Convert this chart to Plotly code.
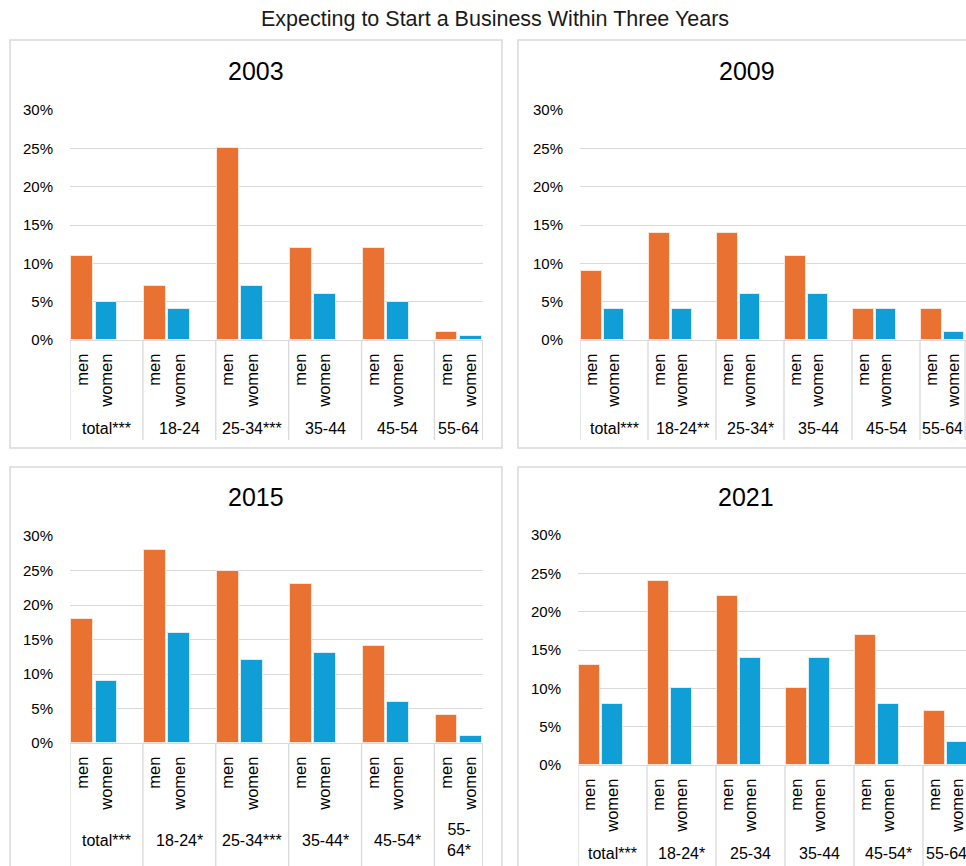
import plotly.graph_objects as go

W, H = 966, 866

title_text = "Expecting to Start a Business Within Three Years"
years = ["2003", "2009", "2015", "2021"]
sexes = ["men", "women"]

groups_2003 = ["total***", "18-24", "25-34***", "35-44", "45-54", "55-64"]
groups_2009 = ["total***", "18-24**", "25-34*", "35-44", "45-54", "55-64"]
groups_2015 = ["total***", "18-24*", "25-34***", "35-44*", "45-54*", "55-<br>64*"]
groups_2021 = ["total***", "18-24*", "25-34", "35-44", "45-54*", "55-64"]

men_2003 = [11, 7, 25, 12, 12, 1.1]
women_2003 = [5, 4, 7, 6, 5, 0.5]
men_2009 = [9, 14, 14, 11, 4, 4]
women_2009 = [4, 4, 6, 6, 4, 1]
men_2015 = [18, 28, 25, 23, 14, 4]
women_2015 = [9, 16, 12, 13, 6, 1]
men_2021 = [13, 24, 22, 10, 17, 7]
women_2021 = [8, 10, 14, 14, 8, 3]

y_ticks = [0, 5, 10, 15, 20, 25, 30]

ORANGE = "#E97132"
BLUE = "#0F9ED5"
GRID = "#d9d9d9"
FONT = "Liberation Sans"


def py(v):
    return 1 - v / H


def px(v):
    return v / W


# panel geometry (screen pixels)
panels = [
    dict(year="2003", groups=groups_2003, men=men_2003, women=women_2003,
         x0=70, x1=483, xmax=17 / 3, ybase=340, ytop=110, glab=428,
         box=(10, 40, 502, 448), tx=256, ty=71, divbottom=440),
    dict(year="2009", groups=groups_2009, men=men_2009, women=women_2009,
         x0=580, x1=966, xmax=(966 - 580) / 68, ybase=340, ytop=110, glab=428,
         box=(518, 40, 980, 448), tx=747, ty=71, divbottom=440),
    dict(year="2015", groups=groups_2015, men=men_2015, women=women_2015,
         x0=70, x1=483, xmax=17 / 3, ybase=743, ytop=536, glab=840,
         box=(10, 467, 502, 880), tx=256, ty=497, divbottom=870),
    dict(year="2021", groups=groups_2021, men=men_2021, women=women_2021,
         x0=578, x1=966, xmax=(966 - 578) / 69, ybase=765, ytop=535, glab=853,
         box=(518, 467, 980, 880), tx=746, ty=497, divbottom=870),
]

fig = go.Figure()
shapes = []
annotations = []

for k, p in enumerate(panels):
    n = len(p["groups"])
    idx = "" if k == 0 else str(k + 1)
    xa, ya = "x" + idx, "y" + idx
    men_x = [i + 1 / 6 for i in range(n)]
    women_x = [i + 0.5 for i in range(n)]
    fig.add_trace(go.Bar(x=men_x, y=p["men"], width=0.3, name="men",
                         marker=dict(color=ORANGE, line=dict(color="#fbe3d6", width=1)),
                         xaxis=xa, yaxis=ya, showlegend=False))
    fig.add_trace(go.Bar(x=women_x, y=p["women"], width=0.3, name="women",
                         marker=dict(color=BLUE, line=dict(color="#d6eef8", width=1)),
                         xaxis=xa, yaxis=ya, showlegend=False))

    tickvals = []
    ticktext = []
    for i in range(n):
        tickvals += [men_x[i], women_x[i]]
        ticktext += sexes

    xdom = [px(p["x0"]), min(1.0, px(p["x1"]))]
    ydom = [py(p["ybase"]), py(p["ytop"])]
    xkey = "xaxis" + idx
    ykey = "yaxis" + idx
    fig.update_layout(**{
        xkey: dict(domain=xdom, range=[0, p["xmax"]], anchor=ya,
                   tickmode="array", tickvals=tickvals, ticktext=ticktext,
                   tickangle=-90, showgrid=False, zeroline=False,
                   showline=True, linecolor=GRID, linewidth=1,
                   ticks="", ticklabelstandoff=6, automargin=False,
                   tickfont=dict(family=FONT, size=16.5, color="#000000"),
                   fixedrange=True),
        ykey: dict(domain=ydom, range=[0, 30], anchor=xa,
                   tickmode="array", tickvals=y_ticks,
                   ticktext=[f"{t}%" for t in y_ticks],
                   showgrid=True, gridcolor=GRID, gridwidth=1,
                   zeroline=False, showline=False, ticks="",
                   ticklabelstandoff=16, automargin=False,
                   tickfont=dict(family=FONT, size=15, color="#000000"),
                   fixedrange=True),
    })

    # category dividers below the axis
    divs = list(range(n))
    if p["xmax"] >= 17 / 3 - 1e-9:
        divs.append(17 / 3 - 0.004)
    for d in divs:
        shapes.append(dict(type="line", xref=xa, yref="paper",
                           x0=d, x1=d, y0=py(p["ybase"]), y1=py(p["divbottom"]),
                           line=dict(color=GRID, width=1.3)))

    # group labels
    for i, g in enumerate(p["groups"]):
        right = min(i + 1, 17 / 3)
        cx = (i + right) / 2
        annotations.append(dict(text=g, xref=xa, yref="paper", x=cx, y=py(p["glab"]),
                                showarrow=False, xanchor="center", yanchor="middle",
                                font=dict(family=FONT, size=16, color="#000000")))

    # panel border
    bx0, by0, bx1, by1 = p["box"]
    shapes.append(dict(type="rect", xref="paper", yref="paper",
                       x0=px(bx0), x1=px(bx1), y0=py(by1), y1=py(by0),
                       line=dict(color="#d9d9d9", width=1.5), layer="below"))

    # panel title
    annotations.append(dict(text=p["year"], xref="paper", yref="paper",
                            x=px(p["tx"]), y=py(p["ty"]), showarrow=False,
                            xanchor="center", yanchor="middle",
                            font=dict(family=FONT, size=25, color="#000000")))

annotations.append(dict(text=title_text, xref="paper", yref="paper",
                        x=px(495), y=py(19), showarrow=False,
                        xanchor="center", yanchor="middle",
                        font=dict(family=FONT, size=21.5, color="#1a1a1a")))

fig.update_layout(width=W, height=H,
                  margin=dict(l=0, r=0, t=0, b=0, pad=0, autoexpand=False),
                  paper_bgcolor="white", plot_bgcolor="white",
                  barmode="overlay", bargap=0, showlegend=False,
                  shapes=shapes, annotations=annotations,
                  font=dict(family=FONT))

fig.write_html("out.html")
